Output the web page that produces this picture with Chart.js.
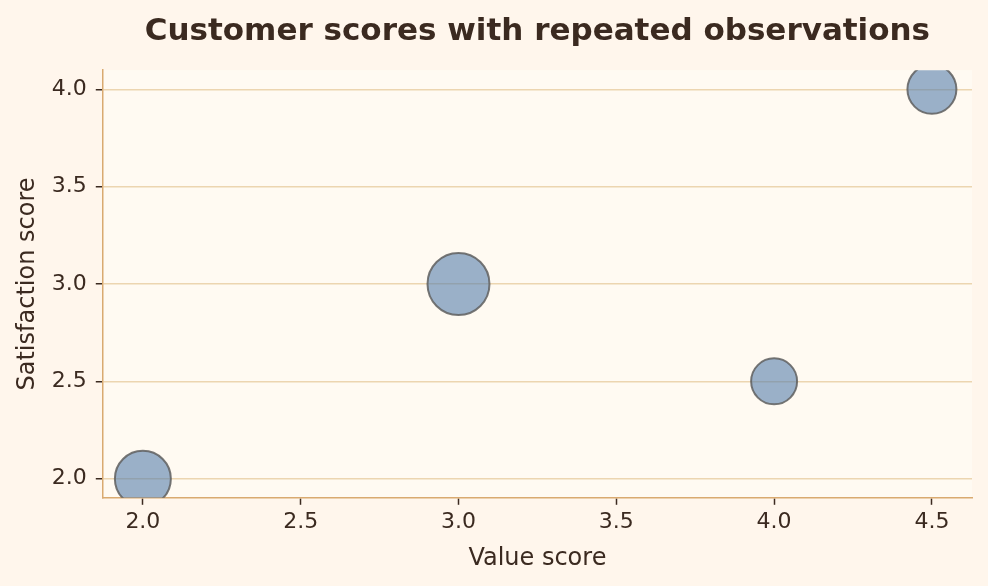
<!DOCTYPE html>
<html>
<head>
<meta charset="utf-8">
<script src="https://cdn.jsdelivr.net/npm/chart.js@4"></script>
<style>
  html, body { margin: 0; padding: 0; background: #fff6ec; overflow: hidden; width: 988px; height: 586px; }
  canvas { display: block; }
</style>
</head>
<body>
<canvas id="chart" width="1005" height="586"></canvas>
<script>
const valueScore = [2.0, 3.0, 4.0, 4.5];
const satisfactionScore = [2.0, 3.0, 2.5, 4.0];
const bubbleRadius = [28, 31, 23, 24.5];
const xTicks = [2.0, 2.5, 3.0, 3.5, 4.0, 4.5];
const yTicks = [2.0, 2.5, 3.0, 3.5, 4.0];

const textColor = '#3b2a20';
const font = "'DejaVu Sans', sans-serif";

let points = [];
for (let i = 0; i < valueScore.length; i++) {
    points.push({ x: valueScore[i], y: satisfactionScore[i], r: bubbleRadius[i] });
}

// plot area fill
const plotBg = {
    id: 'plotBg',
    beforeDraw(chart) {
        const a = chart.chartArea;
        const ctx = chart.ctx;
        ctx.save();
        ctx.fillStyle = '#fffaf2';
        ctx.fillRect(a.left, a.top, a.right - a.left, a.bottom - a.top);
        ctx.restore();
    }
};

new Chart('chart', {
    type: 'bubble',
    data: {
        datasets: [{
            data: points,
            backgroundColor: 'rgba(87,127,172,0.6)',
            borderColor: 'rgba(95,95,95,0.85)',
            borderWidth: 2,
            hoverBorderWidth: 2
        }]
    },
    plugins: [plotBg],
    options: {
        responsive: false,
        animation: false,
        layout: { padding: { left: 13, right: 16, top: 5, bottom: 13 } },
        plugins: {
            legend: { display: false },
            tooltip: { enabled: false },
            title: {
                display: true,
                text: 'Customer scores with repeated observations',
                color: textColor,
                fullSize: false,
                font: { family: font, size: 31, weight: 'bold' },
                padding: { top: 8, bottom: 20 }
            }
        },
        scales: {
            x: {
                type: 'linear',
                min: 1.873,
                max: 4.627,
                afterBuildTicks: (s) => { s.ticks = xTicks.map(v => ({ value: v })); },
                grid: { drawOnChartArea: false, tickColor: textColor, tickLength: 7, tickWidth: 1.5 },
                border: { color: '#d9aa70', width: 1.5 },
                ticks: {
                    color: textColor,
                    font: { family: font, size: 22 },
                    padding: 4,
                    maxRotation: 0,
                    callback: (v) => v.toFixed(1)
                },
                title: {
                    display: true,
                    text: 'Value score',
                    color: textColor,
                    font: { family: font, size: 24 },
                    padding: { top: 5, bottom: 0 }
                }
            },
            y: {
                type: 'linear',
                min: 1.902,
                max: 4.098,
                afterBuildTicks: (s) => { s.ticks = yTicks.map(v => ({ value: v })); },
                grid: { color: '#ecd5b0', lineWidth: 1.5, tickColor: textColor, tickLength: 7, tickWidth: 1.5 },
                border: { color: '#d9aa70', width: 1.5 },
                ticks: {
                    color: textColor,
                    font: { family: font, size: 22 },
                    padding: 9,
                    callback: (v) => v.toFixed(1)
                },
                title: {
                    display: true,
                    text: 'Satisfaction score',
                    color: textColor,
                    font: { family: font, size: 24 },
                    padding: { top: 0, bottom: 1 }
                }
            }
        }
    }
});
</script>
</body>
</html>
